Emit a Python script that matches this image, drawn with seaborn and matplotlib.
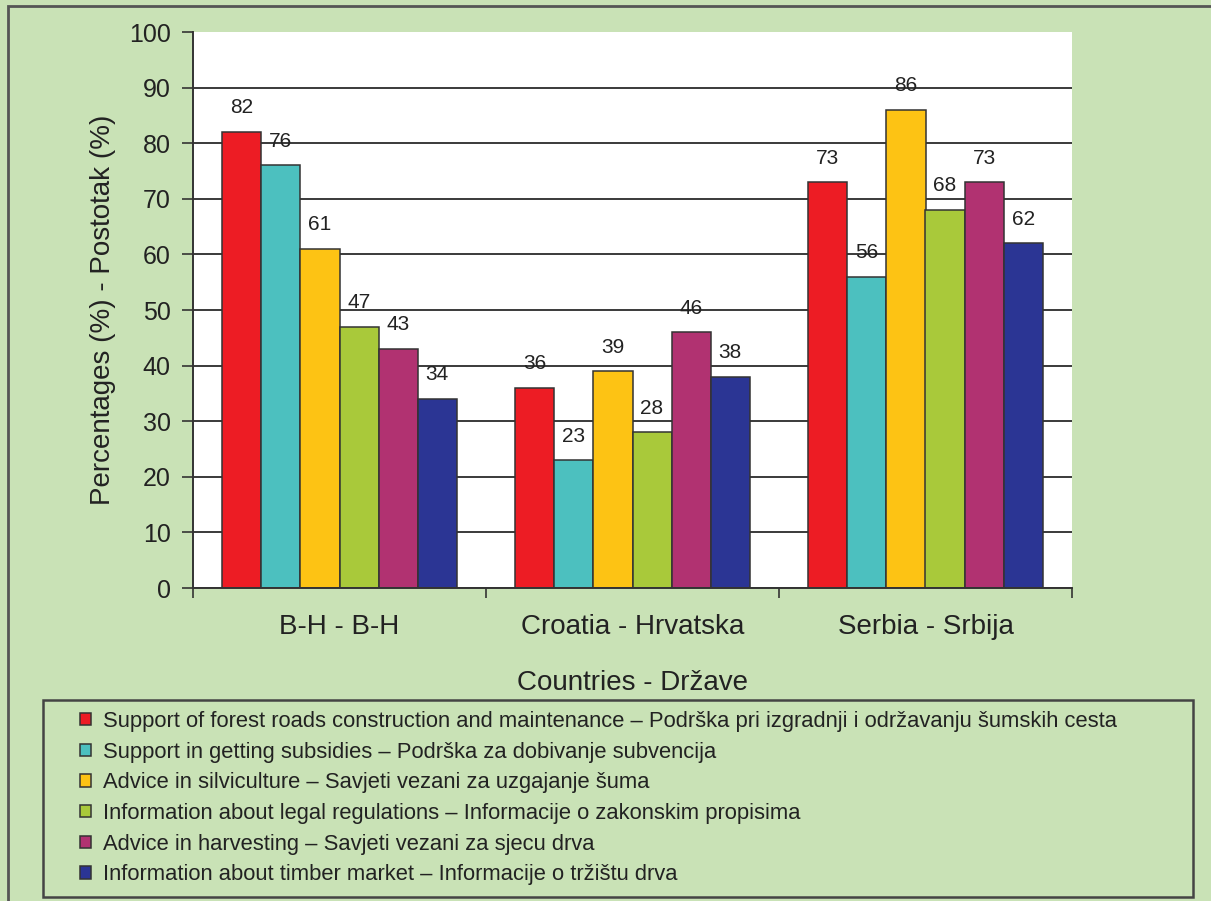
import pandas as pd
import matplotlib
matplotlib.use("Agg")
import matplotlib.pyplot as plt
from matplotlib.patches import Rectangle
import seaborn as sns

# Data
countries = ["B-H - B-H", "Croatia - Hrvatska", "Serbia - Srbija"]
services = [
    "Support of forest roads construction and maintenance – Podrška pri izgradnji i održavanju šumskih cesta",
    "Support in getting subsidies – Podrška za dobivanje subvencija",
    "Advice in silviculture – Savjeti vezani za uzgajanje šuma",
    "Information about legal regulations – Informacije o zakonskim propisima",
    "Advice in harvesting – Savjeti vezani za sjecu drva",
    "Information about timber market – Informacije o tržištu drva",
]
roads = [82, 36, 73]
subsidies = [76, 23, 56]
silviculture = [61, 39, 86]
legal = [47, 28, 68]
harvesting = [43, 46, 73]
timber = [34, 38, 62]
colors = ["#ED1C24", "#4CC0BF", "#FDC314", "#A9C93A", "#B13271", "#2B3594"]

series = [roads, subsidies, silviculture, legal, harvesting, timber]
df = pd.DataFrame(
    [(c, s, v) for s, vals in zip(services, series) for c, v in zip(countries, vals)],
    columns=["country", "service", "value"],
)

sns.set_theme(style="white")
plt.rcParams["font.family"] = ["Liberation Sans", "DejaVu Sans"]

W, H = 1211, 901
bg = "#C9E2B6"
dark = "#333333"
txt = "#222222"
fig = plt.figure(figsize=(W / 100, H / 100), dpi=100, facecolor=bg)
ax = fig.add_axes([193 / W, 1 - 588 / H, (1072 - 193) / W, (588 - 32) / H])
ax.set_facecolor("white")

sns.barplot(data=df, x="country", y="value", hue="service", palette=colors,
            edgecolor=dark, linewidth=1.1, saturation=1, width=0.8, ax=ax)

# value labels above bars
for cont in ax.containers:
    ax.bar_label(cont, fmt="%d", padding=10.5, fontsize=15, color=txt)

ax.set_xlim(-0.5, 2.5)
ax.set_ylim(0, 100)
ax.set_yticks(range(0, 101, 10))
ax.yaxis.grid(True, color="#3a3a3a", linewidth=1.4)
ax.get_ygridlines()[-1].set_visible(False)
ax.set_axisbelow(True)

for side in ["top", "right"]:
    ax.spines[side].set_visible(False)
for side in ["left", "bottom"]:
    ax.spines[side].set_color(dark)
    ax.spines[side].set_linewidth(1.4)

ax.set_xticks([-0.5, 0.5, 1.5, 2.5], minor=True)
ax.tick_params(axis="x", which="major", length=0, pad=19, labelsize=20, labelcolor=txt)
ax.tick_params(axis="x", which="minor", bottom=True, length=7, width=1.2, color=dark, direction="out")
ax.tick_params(axis="y", left=True, length=8, width=1.2, color=dark, pad=8,
               labelsize=18, labelcolor=txt)

ax.set_xlabel("Countries - Države", fontsize=20, color=txt, labelpad=21)
ax.set_ylabel("Percentages (%) - Postotak (%)", fontsize=20, color=txt, labelpad=9)

# legend in a box below the chart
handles, labels = ax.get_legend_handles_labels()
ax.legend_.remove()
fig.legend(handles, labels, loc="upper left", bbox_to_anchor=(80 / W, 1 - 711 / H),
           frameon=False, fontsize=15.8, borderpad=0, borderaxespad=0,
           handlelength=0.5, handleheight=0.5, handletextpad=0.55,
           labelspacing=0.44, labelcolor=txt)
fig.add_artist(Rectangle((43 / W, 1 - 897 / H), (1193 - 43) / W, (897 - 700) / H,
                         transform=fig.transFigure, fill=False, edgecolor="#444444", linewidth=1.8))

# outer frame (only top and left edges are visible in the crop)
fig.add_artist(Rectangle((8 / W, -0.2), 1.5, 1 - 6 / H + 0.2,
                         transform=fig.transFigure, fill=False, edgecolor="#555555", linewidth=2))

fig.savefig("out.png", dpi=100, facecolor=bg)
